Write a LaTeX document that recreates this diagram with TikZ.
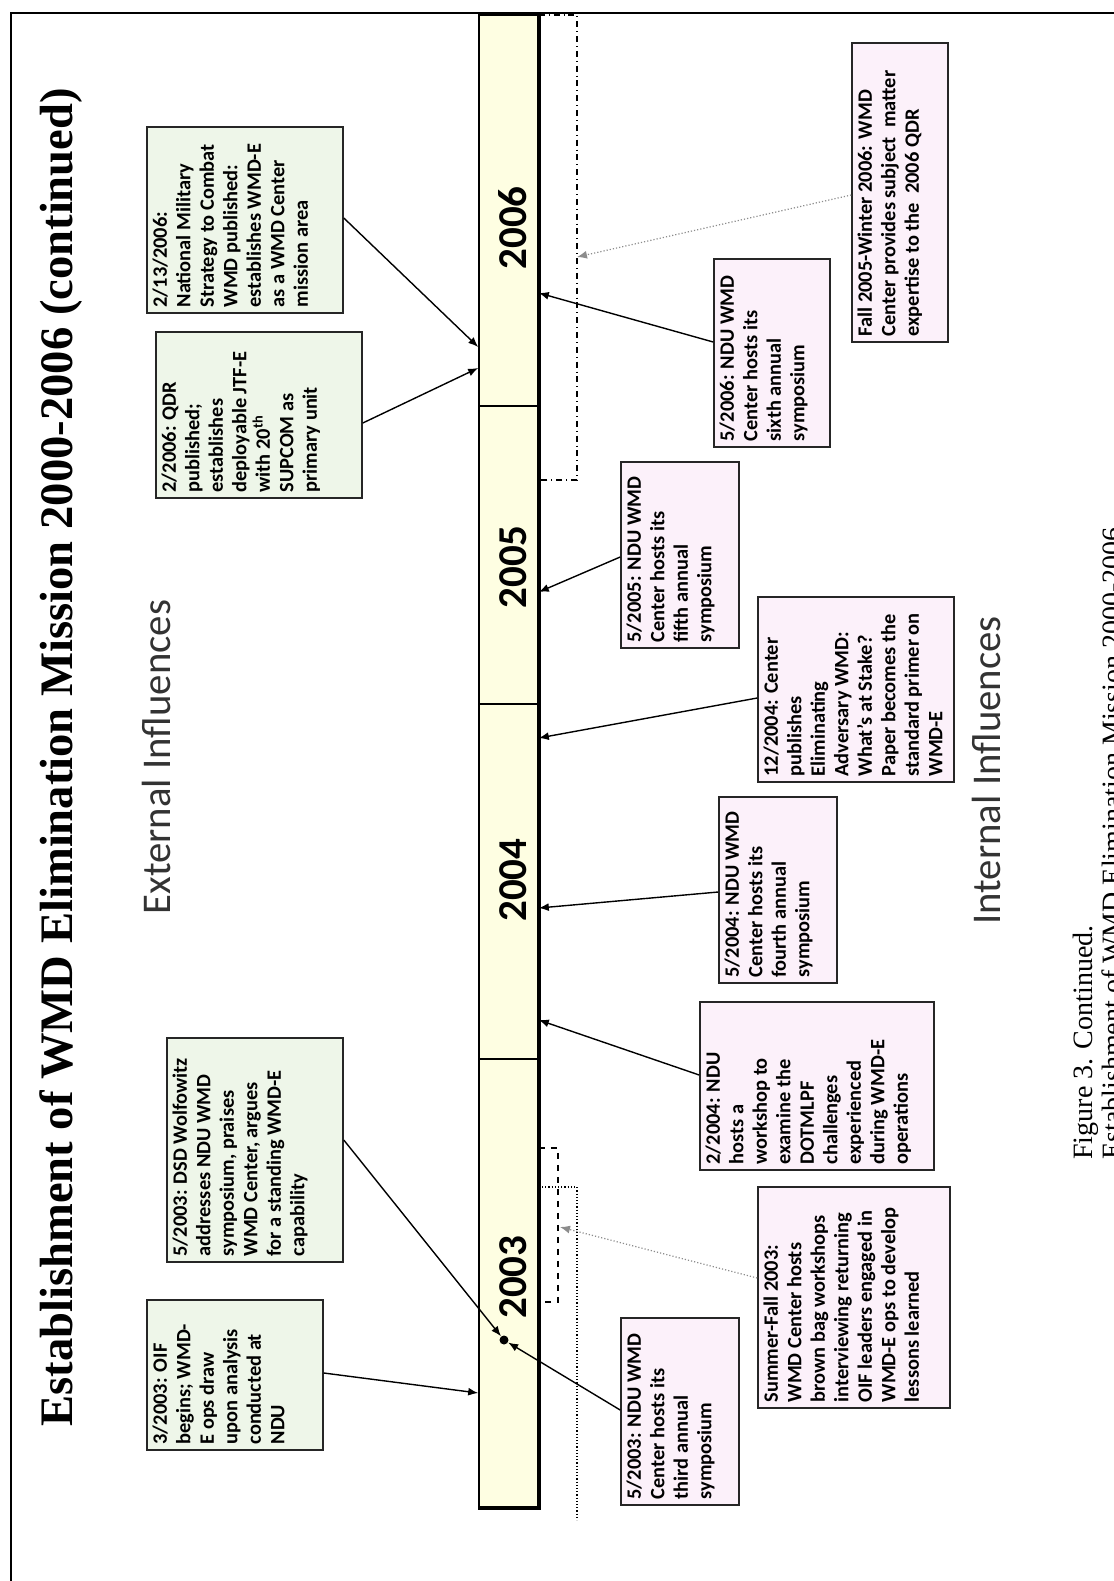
\documentclass[tikz,border=0pt]{standalone}
\usepackage{fontspec}
\setmainfont{Carlito}
\newfontfamily\serifface{Liberation Serif}
\usetikzlibrary{arrows.meta,calc}
\definecolor{gfill}{RGB}{238,246,233}
\definecolor{pfill}{RGB}{252,241,250}
\definecolor{barfill}{RGB}{254,254,226}
\begin{document}
\begin{tikzpicture}[x=0.5pt,y=-0.5pt,
 box/.style={draw=black!85, line width=0.8pt, rotate=90, inner sep=0pt},
 gbox/.style={box, fill=gfill},
 pbox/.style={box, fill=pfill},
 btext/.style={rotate=90, anchor=north west, align=left, inner xsep=3pt, inner ysep=3pt, font=\fontsize{10.2}{11.75}\selectfont\bfseries},
 conn/.style={-{Latex[length=5pt,width=4pt]}, line width=0.7pt},
 dconn/.style={-{Latex[length=5pt,width=4pt]}, line width=0.6pt, black!45, densely dotted},
 yearlab/.style={rotate=90, inner sep=0pt, font=\fontsize{20.5}{24}\selectfont\bfseries},
 infl/.style={rotate=90, anchor=base west, inner sep=0pt, font=\fontsize{20.4}{24}\selectfont, text=black!80},
 capt/.style={rotate=90, anchor=base west, inner sep=0pt, font=\serifface\fontsize{14}{17}\selectfont},
]
\useasboundingbox (0,0) rectangle (1114,1581);
% frame
\draw[line width=1pt] (11,1581) -- (11,13) -- (1114,13);
% title
\node[rotate=90, anchor=base west, inner sep=0pt, font=\serifface\bfseries\fontsize{23.3}{28}\selectfont] (title) at (72,1427) {Establishment of WMD Elimination Mission 2000-2006 (continued)};
\node[infl] (ext) at (170,915) {External Influences};
\node[infl] (int) at (1000,925) {Internal Influences};
% timeline bar
\node[draw, fill=barfill, line width=0.8pt, minimum width=29.5pt, minimum height=746pt, inner sep=0pt] (bar) at (508.5,761) {};
\draw[line width=2pt] (bar.north west) -- (bar.north east) -- (bar.south east) -- (bar.south west);
\draw[line width=0.8pt] (bar.west |- 0,406) -- (bar.east |- 0,406);
\draw[line width=0.8pt] (bar.west |- 0,704) -- (bar.east |- 0,704);
\draw[line width=0.8pt] (bar.west |- 0,1059) -- (bar.east |- 0,1059);
\node[yearlab] (y06) at (513,228) {2006};
\node[yearlab] (y05) at (513,567) {2005};
\node[yearlab] (y04) at (513,880) {2004};
\node[yearlab] (y03) at (513,1277) {2003};
\node[circle, fill=black, inner sep=0pt, minimum size=4.5pt] (dot) at (504,1340) {};
% brackets
\draw[dash dot, line width=0.6pt] (bar.east |- 0,15) -- (577,15) -- (577,480) -- (bar.east |- 0,480);
\draw[dashed, line width=0.6pt] (bar.east |- 0,1148) -- (558,1148) -- (558,1302) -- (bar.east |- 0,1302);
\draw[densely dotted, line width=0.6pt] (bar.east |- 0,1187) -- (577,1187) -- (577,1520);
\coordinate (ddl) at (577,257);
\coordinate (dsh) at (560,1227);
% external boxes
\node[gbox, minimum width=93pt, minimum height=98pt] (nms) at (245,220) {};
\node[btext] at (nms.north west) {2/13/2006:\\National Military\\Strategy to Combat\\WMD published:\\establishes WMD-E\\as a WMD Center\\mission area};
\node[gbox, minimum width=83pt, minimum height=103pt] (qdr) at (259,415) {};
\node[btext] at (qdr.north west) {2/2006: QDR\\published;\\establishes\\deployable JTF-E\\with 20\textsuperscript{th}\\SUPCOM as\\primary unit};
\node[gbox, minimum width=112pt, minimum height=88pt] (dsd) at (255,1150) {};
\node[btext] at (dsd.north west) {5/2003: DSD Wolfowitz\\addresses NDU WMD\\symposium, praises\\WMD Center, argues\\for a standing WMD-E\\capability};
\node[gbox, minimum width=75pt, minimum height=88pt] (oif) at (235,1375) {};
\node[btext] at (oif.north west) {3/2003: OIF\\begins; WMD-\\E ops draw\\upon analysis\\conducted at\\NDU};
% internal boxes
\node[pbox, minimum width=149.5pt, minimum height=48pt] (fall) at (900,192.5) {};
\node[btext] at (fall.north west) {Fall 2005-Winter 2006: WMD\\Center provides subject\ \ matter\\expertise to the\ \ 2006 QDR};
\node[pbox, minimum width=94pt, minimum height=58pt] (n06) at (772,353) {};
\node[btext] at (n06.north west) {5/2006: NDU WMD\\Center hosts its\\sixth annual\\symposium};
\node[pbox, minimum width=93pt, minimum height=59pt] (n05) at (680,555) {};
\node[btext] at (n05.north west) {5/2005: NDU WMD\\Center hosts its\\fifth annual\\symposium};
\node[pbox, minimum width=92.5pt, minimum height=98pt] (c04) at (856,689.5) {};
\node[btext] at (c04.north west) {12/2004: Center\\publishes\\Eliminating\\Adversary WMD:\\What’s at Stake?\\Paper becomes the\\standard primer on\\WMD-E};
\node[pbox, minimum width=93pt, minimum height=59pt] (n04) at (778,890) {};
\node[btext] at (n04.north west) {5/2004: NDU WMD\\Center hosts its\\fourth annual\\symposium};
\node[pbox, minimum width=84pt, minimum height=117pt] (w04) at (817,1086) {};
\node[btext] at (w04.north west) {2/2004: NDU\\hosts a\\workshop to\\examine the\\DOTMLPF\\challenges\\experienced\\during WMD-E\\operations};
\node[pbox, minimum width=93.5pt, minimum height=59pt] (n03) at (680,1411.5) {};
\node[btext] at (n03.north west) {5/2003: NDU WMD\\Center hosts its\\third annual\\symposium};
\node[pbox, minimum width=110.5pt, minimum height=96pt] (sf) at (854,1297.5) {};
\node[btext] at (sf.north west) {Summer-Fall 2003:\\WMD Center hosts\\brown bag workshops\\interviewing returning\\OIF leaders engaged in\\WMD-E ops to develop\\lessons learned};
% connectors
\draw[conn] (nms.south |- 0,218) -- (bar.west |- 0,347);
\draw[conn] (qdr.south |- 0,423) -- (bar.west |- 0,368);
\draw[conn] (dsd.south |- 0,1140) -- (dot);
\draw[conn] (oif.south |- 0,1373) -- (bar.west |- 0,1393);
\draw[dconn] (fall.north |- 0,195) -- (ddl);
\draw[conn] (n06.north |- 0,342) -- (bar.east |- 0,293);
\draw[conn] (n05.north |- 0,557) -- (bar.east |- 0,592);
\draw[conn] (c04.north |- 0,698) -- (bar.east |- 0,738);
\draw[conn] (n04.north |- 0,892) -- (bar.east |- 0,908);
\draw[conn] (w04.north |- 0,1075) -- (bar.east |- 0,1020);
\draw[conn] (n03.north |- 0,1410) -- (dot);
\draw[dconn] (sf.north |- 0,1278) -- (dsh);
% caption
\node[capt] (cap1) at (1092,1160) {Figure 3. Continued.};
\node[capt] (cap2) at (1121,1160) {Establishment of WMD Elimination Mission 2000-2006};
\end{tikzpicture}
\end{document}
